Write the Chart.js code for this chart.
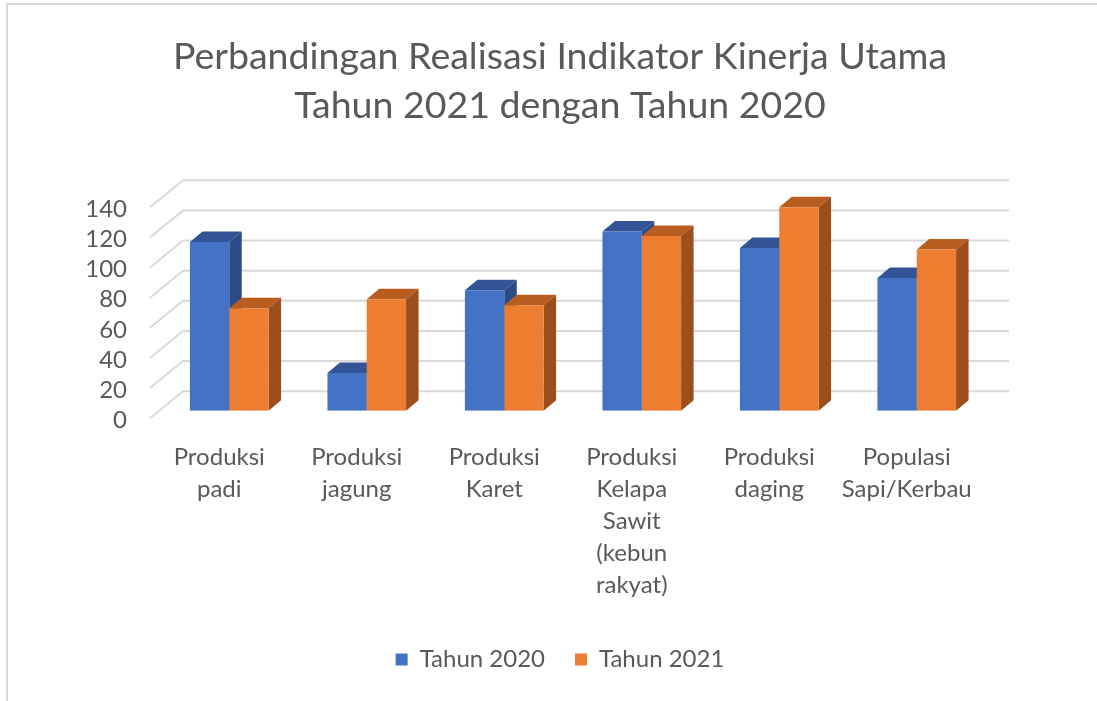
<!DOCTYPE html>
<html>
<head>
<meta charset="utf-8">
<script src="https://cdn.jsdelivr.net/npm/chart.js@4"></script>
<style>
  body { margin: 0; background: #fff; }
  #frame { position: absolute; left: 6px; top: 3px; width: 1200px; height: 800px;
           border-left: 2px solid #d9d9d9; border-top: 2px solid #d9d9d9; }
  #chart { position: absolute; left: 0; top: 0; }
</style>
</head>
<body>
<div id="frame"></div>
<canvas id="chart" width="1097" height="701"></canvas>
<script>
const categories = [
  ["Produksi", "padi"],
  ["Produksi", "jagung"],
  ["Produksi", "Karet"],
  ["Produksi", "Kelapa", "Sawit", "(kebun", "rakyat)"],
  ["Produksi", "daging"],
  ["Populasi", "Sapi/Kerbau"]
];
const tahun2020 = [112, 25, 80, 119, 108, 88];
const tahun2021 = [68, 74, 70, 116, 135, 107];
const seriesNames = ["Tahun 2020", "Tahun 2021"];
const yTicks = [0, 20, 40, 60, 80, 100, 120, 140];

const frontColors = ["#4472C4", "#ED7D31"];
const topColors = ["#325496", "#B85C20"];
const sideColors = ["#2C4C87", "#9C4E1C"];

// fake 3d offsets
const BAR_DX = 12.5, BAR_DY = -10.5;
const WALL_DX = 22.5, WALL_DY = -19.5;
const FRONT_DX = -10.5, FRONT_DY = 7.5;

const fontFamily = "Lato, 'Open Sans', sans-serif";
const textColor = "#595959";

const depth3d = {
  id: "depth3d",
  beforeDatasetsDraw(chart) {
    const ctx = chart.ctx;
    const area = chart.chartArea;
    const y = chart.scales.y;

    ctx.save();
    // floor diagonals + back wall lines
    ctx.strokeStyle = "#d9d9d9";
    ctx.lineWidth = 2;
    yTicks.forEach(v => {
      const py = y.getPixelForValue(v);
      ctx.beginPath();
      ctx.moveTo(area.left + FRONT_DX, py + FRONT_DY);
      ctx.lineTo(area.left + WALL_DX, py + WALL_DY);
      ctx.lineTo(area.right + WALL_DX + 1, py + WALL_DY);
      ctx.stroke();
    });

    // tops and right sides, category by category
    const metas = chart.data.datasets.map((d, i) => chart.getDatasetMeta(i));
    for (let j = 0; j < chart.data.labels.length; j++) {
      metas.forEach((meta, i) => {
        const bar = meta.data[j];
        const l = bar.x - bar.width / 2;
        const r = bar.x + bar.width / 2;
        const t = bar.y;
        const b = bar.base;

        ctx.fillStyle = topColors[i];
        ctx.beginPath();
        ctx.moveTo(l, t);
        ctx.lineTo(l + BAR_DX, t + BAR_DY);
        ctx.lineTo(r + BAR_DX, t + BAR_DY);
        ctx.lineTo(r, t);
        ctx.closePath();
        ctx.fill();

        ctx.fillStyle = sideColors[i];
        ctx.beginPath();
        ctx.moveTo(r, t);
        ctx.lineTo(r + BAR_DX, t + BAR_DY);
        ctx.lineTo(r + BAR_DX, b + BAR_DY);
        ctx.lineTo(r, b);
        ctx.closePath();
        ctx.fill();
      });
    }
    ctx.restore();
  }
};

new Chart(document.getElementById("chart"), {
  type: "bar",
  data: {
    labels: categories,
    datasets: [
      {
        label: seriesNames[0],
        data: tahun2020,
        backgroundColor: frontColors[0],
        borderWidth: 0
      },
      {
        label: seriesNames[1],
        data: tahun2021,
        backgroundColor: frontColors[1],
        borderWidth: 0
      }
    ]
  },
  options: {
    responsive: false,
    animation: false,
    devicePixelRatio: 1,
    categoryPercentage: 0.572,
    barPercentage: 1,
    layout: {
      padding: { left: 23, right: 0, top: 0, bottom: 19.5 }
    },
    plugins: {
      title: {
        display: true,
        text: ["Perbandingan Realisasi Indikator Kinerja Utama", "Tahun 2021 dengan Tahun 2020"],
        color: textColor,
        font: { family: fontFamily, size: 37.5, weight: "normal", lineHeight: 1.29 },
        padding: { top: 33, bottom: 70 }
      },
      legend: {
        position: "bottom",
        labels: {
          boxWidth: 12,
          boxHeight: 12,
          padding: 30,
          color: textColor,
          font: { family: fontFamily, size: 24 }
        }
      },
      tooltip: { enabled: false }
    },
    scales: {
      x: {
        grid: { display: false, drawTicks: false },
        border: { display: false },
        ticks: {
          color: textColor,
          font: { family: fontFamily, size: 24, lineHeight: 1.33 },
          padding: 31,
          labelOffset: -10,
          maxRotation: 0,
          autoSkip: false
        },
        afterFit(s) { s.height = 206.8; }
      },
      y: {
        min: 0,
        max: 140,
        grid: { display: false, drawTicks: false },
        border: { display: false },
        ticks: {
          stepSize: 20,
          autoSkip: false,
          color: textColor,
          font: { family: fontFamily, size: 24 },
          padding: 33.5,
          labelOffset: 9.5
        },
        afterFit(s) { s.width = 137.5; }
      },
      // empty right-hand box: keeps room for the wall lines beyond the bars
      yRight: {
        position: "right",
        min: 0,
        max: 140,
        grid: { display: false, drawTicks: false },
        border: { display: false },
        ticks: { display: false },
        afterFit(s) { s.width = 111.5; }
      }
    }
  },
  plugins: [depth3d]
});
</script>
</body>
</html>
